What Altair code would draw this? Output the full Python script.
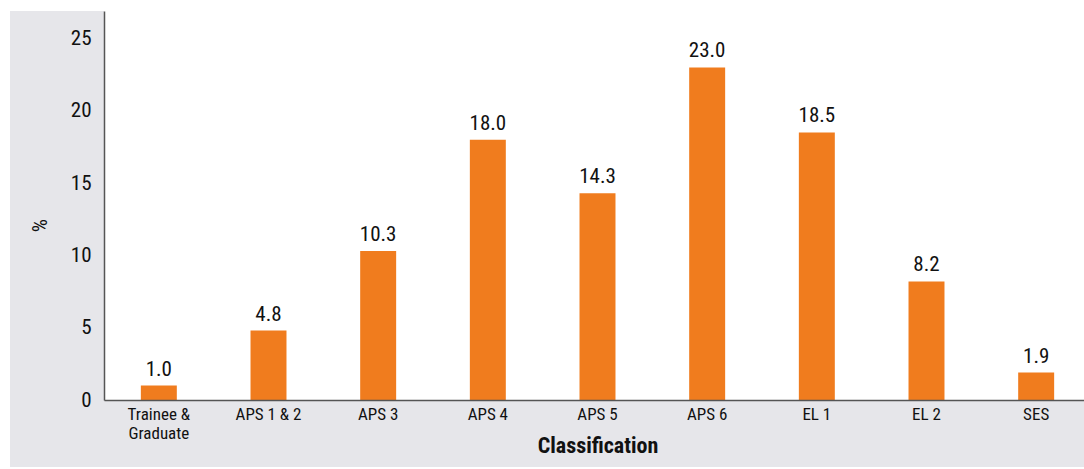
import altair as alt
import pandas as pd

# Share of staff by classification level (%)
categories = ["Trainee & Graduate", "APS 1 & 2", "APS 3", "APS 4", "APS 5",
              "APS 6", "EL 1", "EL 2", "SES"]
values = [1.0, 4.8, 10.3, 18.0, 14.3, 23.0, 18.5, 8.2, 1.9]
y_ticks = [0, 5, 10, 15, 20, 25]

df = pd.DataFrame({"classification": categories, "pct": values})

FONT = "Liberation Sans Narrow, Roboto Condensed, DejaVu Sans Condensed, Arial Narrow, sans-serif"
ORANGE = "#f07c1e"
PANEL = "#e6e6ea"

W, H = 980, 389

x_enc = alt.X(
    "classification:N",
    sort=categories,
    scale=alt.Scale(range=[0, 987], paddingInner=0.672, paddingOuter=0.336),
    axis=alt.Axis(
        title="Classification",
        titleFontWeight="bold",
        titleFontSize=22,
        titleY=45,
        titleBaseline="middle",
        labelAngle=0,
        labelFontSize=17,
        labelPadding=6,
        labelLineHeight=19,
        labelExpr="datum.value == 'Trainee & Graduate' ? ['Trainee &', 'Graduate'] : datum.value",
        ticks=False,
        zindex=2,
    ),
)
y_enc = alt.Y(
    "pct:Q",
    scale=alt.Scale(domain=[0, 26.9], nice=False),
    axis=alt.Axis(
        title="%",
        values=y_ticks,
        titleFontSize=21,
        titleFontWeight="normal",
        titleX=-64,
        titleY=214,
        titleAlign="center",
        titleBaseline="middle",
        labelFontSize=21,
        labelPadding=13,
        ticks=False,
        grid=False,
        zindex=2,
    ),
)

base = alt.Chart(df)

# grey panel behind the axes, white plotting area on top of it
panel = base.mark_rect(color=PANEL).encode(
    x=alt.value(-94), x2=alt.value(W + 20), y=alt.value(0), y2=alt.value(456)
)
plot_bg = base.mark_rect(color="white").encode(
    x=alt.value(0), x2=alt.value(W + 20), y=alt.value(0), y2=alt.value(H)
)

bars = base.mark_bar(color=ORANGE).encode(x=x_enc, y=y_enc)
labels = base.mark_text(
    fontSize=21, fontWeight="normal", dy=-10, baseline="alphabetic",
    align="center", color="#111"
).encode(x=x_enc, y=y_enc, text=alt.Text("pct:Q", format=".1f"))

chart = (
    alt.layer(panel, plot_bg, bars, labels)
    .properties(
        width=W,
        height=H,
        autosize=alt.AutoSizeParams(type="none"),
        padding={"left": 104, "top": 11, "right": 0, "bottom": 69},
        background="white",
    )
    .configure_view(stroke=None)
    .configure_axis(
        labelFont=FONT,
        titleFont=FONT,
        labelColor="#111",
        titleColor="#111",
        domainColor="#555",
        domainWidth=1.5,
    )
    .configure_text(font=FONT)
)

chart.save("out.html", embed_options={"renderer": "svg", "actions": False})
